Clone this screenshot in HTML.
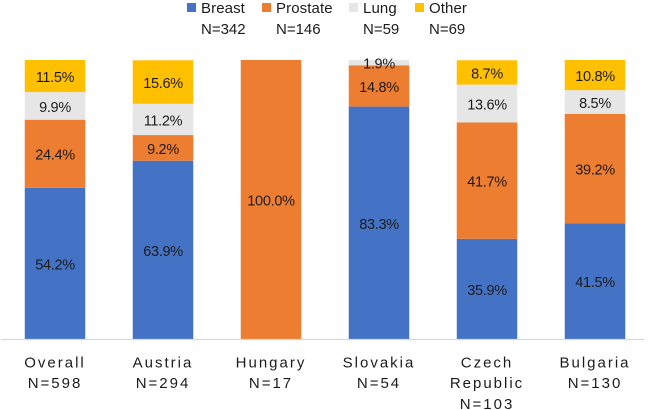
<!DOCTYPE html>
<html lang="en">
<head>
<meta charset="utf-8">
<title>Cancer type by country</title>
<style>
html,body{margin:0;padding:0;background:#fff;}
svg{display:block;font-family:"Liberation Sans",Arial,sans-serif;}
</style>
</head>
<body>
<svg id="chart" xmlns="http://www.w3.org/2000/svg" width="649" height="410" viewBox="0 0 649 410">
  <rect x="0" y="0" width="649" height="410" fill="#ffffff"/>
  <g id="bars"></g>
  <line x1="1" y1="339.5" x2="644" y2="339.5" stroke="#d9d9d9" stroke-width="1.2"/>
  <g id="xlabels"></g>
  <g id="legend"></g>
</svg>
<script>
const categories = [["Overall", "N=598"], ["Austria", "N=294"], ["Hungary", "N=17"], ["Slovakia", "N=54"], ["Czech", "Republic", "N=103"], ["Bulgaria", "N=130"]];
const seriesNames = ["Breast", "Prostate", "Lung", "Other"];
const seriesCounts = ["N=342", "N=146", "N=59", "N=69"];
const seriesColors = ["#4472c4", "#ed7d31", "#e7e6e6", "#ffc000"];
const breast = [54.2, 63.9, 0, 83.3, 35.9, 41.5];
const prostate = [24.4, 9.2, 100.0, 14.8, 41.7, 39.2];
const lung = [9.9, 11.2, 0, 1.9, 13.6, 8.5];
const other = [11.5, 15.6, 0, 0, 8.7, 10.8];
const seriesValues = [breast, prostate, lung, other];

const NS = "http://www.w3.org/2000/svg";
const plotBottom = 339;
const plotTop = 60;
const barWidth = 60.5;
function yScale(v) {
  return plotBottom - (v / 100) * (plotBottom - plotTop);
}
function xCenter(i) {
  return 55 + i * ((595 - 55) / (categories.length - 1));
}
function makeText(parent, x, y, str, size, spacing) {
  const t = document.createElementNS(NS, "text");
  t.setAttribute("x", x);
  t.setAttribute("y", y);
  t.setAttribute("font-size", size);
  t.setAttribute("fill", "#1c1c1c");
  if (spacing) t.setAttribute("letter-spacing", spacing);
  t.textContent = str;
  parent.appendChild(t);
  return t;
}
const barsG = document.getElementById("bars");
const xG = document.getElementById("xlabels");
const legendG = document.getElementById("legend");

categories.forEach(function (cat, i) {
  let cum = 0;
  const cx = xCenter(i);
  seriesValues.forEach(function (vals, s) {
    const v = vals[i];
    if (!v) return;
    const y1 = yScale(cum + v);
    const y0 = yScale(cum);
    const r = document.createElementNS(NS, "rect");
    r.setAttribute("x", cx - barWidth / 2);
    r.setAttribute("y", y1);
    r.setAttribute("width", barWidth);
    r.setAttribute("height", y0 - y1);
    r.setAttribute("fill", seriesColors[s]);
    
    
    barsG.appendChild(r);
    cum += v;
  });
  cum = 0;
  seriesValues.forEach(function (vals, s) {
    const v = vals[i];
    if (!v) return;
    const mid = yScale(cum + v / 2);
    const t = makeText(barsG, cx, mid + 6, v.toFixed(1) + "%", 14.5, -0.3);
    t.setAttribute("text-anchor", "middle");
    
    
    cum += v;
  });
  cat.forEach(function (line, k) {
    const t = makeText(xG, cx, 367.5 + k * 20.7, line, 15, 2);
    t.setAttribute("text-anchor", "middle");
    
    
  });
});

const legendSwatchX = [187, 262, 349, 415];
seriesNames.forEach(function (name, s) {
  const sx = legendSwatchX[s];
  const sw = document.createElementNS(NS, "rect");
  sw.setAttribute("x", sx);
  sw.setAttribute("y", 3);
  sw.setAttribute("width", 9);
  sw.setAttribute("height", 9);
  sw.setAttribute("fill", seriesColors[s]);
  
  
  legendG.appendChild(sw);
  const t1 = makeText(legendG, sx + 14, 13, name, 15, 0.1);
  
  
  const t2 = makeText(legendG, sx + 14, 34, seriesCounts[s], 15, 0);
  
  
});
</script>
</body>
</html>
